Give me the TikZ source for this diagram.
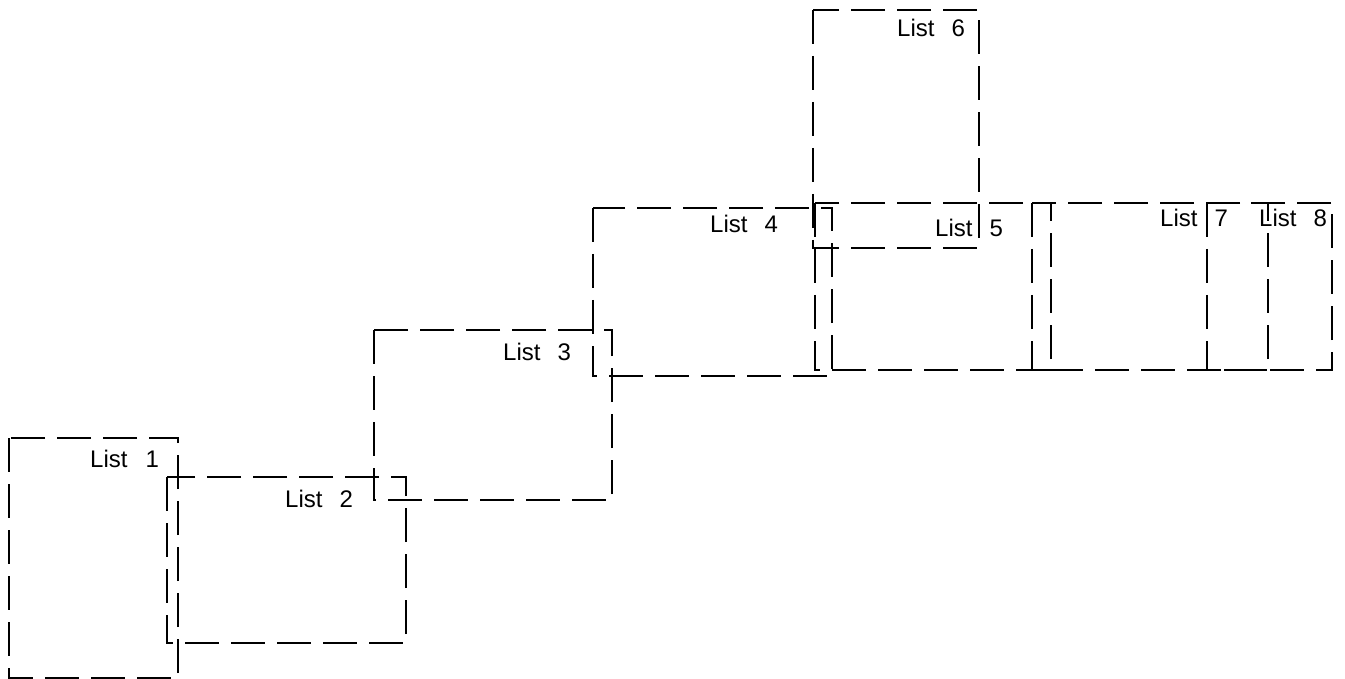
\documentclass[tikz,border=0pt]{standalone}
\usepackage{fontspec}
\setmainfont{Liberation Sans}
\begin{document}
\begin{tikzpicture}[x=1pt,y=-1pt,
  sheet/.style={draw=black,line width=1.2pt,dash pattern=on 34pt off 12pt},
  lbl/.style={anchor=base west,inner sep=0pt,font=\fontsize{24}{24}\selectfont}]
\useasboundingbox (0,0) rectangle (1345,679);
% sheets
\draw[sheet] (9,438) rectangle (178,678);
\draw[sheet] (167,477) rectangle (406,643);
\draw[sheet] (374,330) rectangle (612,500);
\draw[sheet] (593,208) rectangle (832,376);
\draw[sheet] (813,10) rectangle (979,248);
\draw[sheet] (815,203) rectangle (1051,370);
\draw[sheet] (1032,203) rectangle (1268,370);
\draw[sheet] (1207,203) rectangle (1332,370);
% labels
\node[lbl] (l1) at (90,467) {List\hspace{18pt}1};
\node[lbl] (l2) at (285,507) {List\hspace{17pt}2};
\node[lbl] (l3) at (503,360) {List\hspace{17pt}3};
\node[lbl] (l4) at (710,233) {List\hspace{17pt}4};
\node[lbl] (l5) at (935,237) {List\hspace{17pt}5};
\node[lbl] (l6) at (897,37) {List\hspace{17pt}6};
\node[lbl] (l7) at (1160,227) {List\hspace{17pt}7};
\node[lbl] (l8) at (1259,227) {List\hspace{17pt}8};
\end{tikzpicture}
\end{document}
